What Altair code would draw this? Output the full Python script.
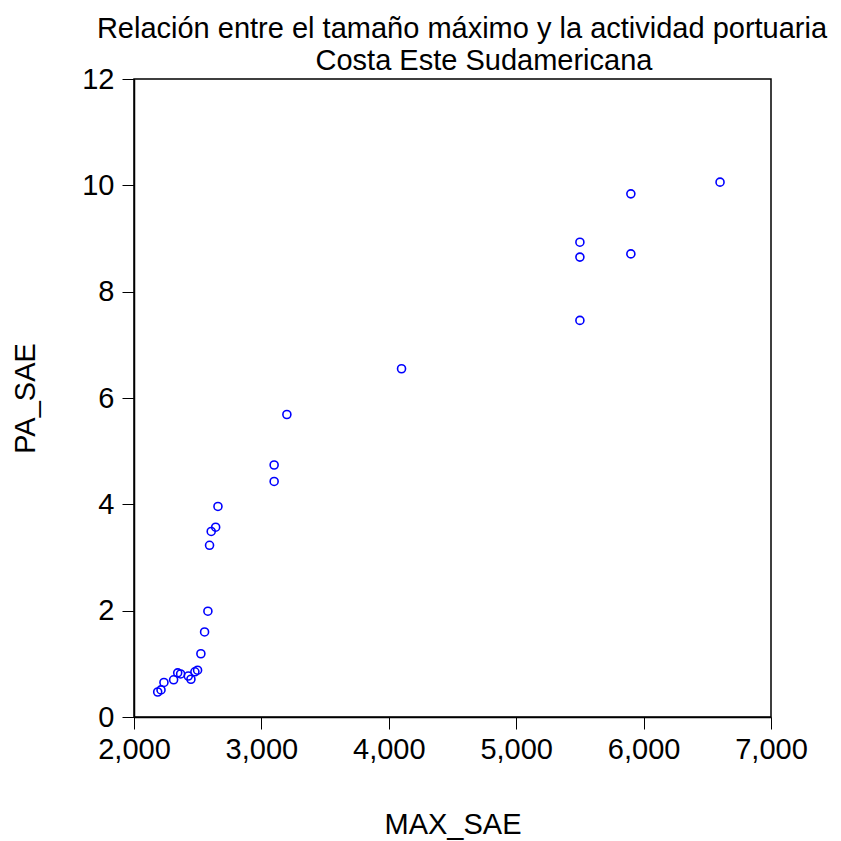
import altair as alt
import pandas as pd

max_sae = [2186, 2212, 2235, 2311, 2343, 2366, 2426, 2447, 2478, 2499, 2525, 2554,
           2580, 2593, 2606, 2641, 2659, 3100, 3100, 3200, 4100, 5500, 5500, 5500,
           5900, 5900, 6600]
pa_sae = [0.47, 0.51, 0.65, 0.70, 0.83, 0.81, 0.77, 0.71, 0.85, 0.88, 1.19, 1.60,
          1.99, 3.23, 3.49, 3.57, 3.96, 4.74, 4.43, 5.69, 6.55, 8.93, 8.65, 7.46,
          9.84, 8.71, 10.06]
x_ticks = [2000, 3000, 4000, 5000, 6000, 7000]
y_ticks = [0, 2, 4, 6, 8, 10, 12]
title_lines = ["Relación entre el tamaño máximo y la actividad portuaria",
               "Costa Este Sudamericana"]

df = pd.DataFrame({"MAX_SAE": max_sae, "PA_SAE": pa_sae})
FONT = "Liberation Sans"
FS = 29
W, H = 637, 638

points = alt.Chart(df).mark_point(
    shape="circle", filled=False, color="#0000FF", size=64, strokeWidth=1.6, opacity=1
).encode(
    x=alt.X("MAX_SAE:Q", scale=alt.Scale(domain=[2000, 7000], nice=False, zero=False),
            axis=alt.Axis(values=x_ticks, format=",.0f", title="MAX_SAE",
                          titlePadding=46, labelPadding=6, labelFlush=False)),
    y=alt.Y("PA_SAE:Q", scale=alt.Scale(domain=[0, 12], nice=False),
            axis=alt.Axis(values=y_ticks, format="d", title="PA_SAE", titlePadding=41,
                          labelPadding=8, labelFlush=False)),
)

t1 = alt.Chart(pd.DataFrame({"t": [title_lines[0]]})).mark_text(
    font=FONT, fontSize=FS, align="center", baseline="alphabetic", color="black"
).encode(text="t:N", x=alt.value(328), y=alt.value(-41))
t2 = alt.Chart(pd.DataFrame({"t": [title_lines[1]]})).mark_text(
    font=FONT, fontSize=FS, align="center", baseline="alphabetic", color="black"
).encode(text="t:N", x=alt.value(350), y=alt.value(-9))

chart = alt.layer(points, t1, t2).properties(
    width=W, height=H,
    autosize=alt.AutoSizeParams(type="none"),
    padding={"left": 126, "top": 71, "right": 62, "bottom": 128},
).configure_view(
    stroke="black", strokeWidth=1.5
).configure_axis(
    grid=False, domainColor="black", domainWidth=1.5, tickColor="black",
    tickSize=12, tickWidth=1, labelFont=FONT, labelFontSize=FS, labelColor="black",
    titleFont=FONT, titleFontSize=FS, titleFontWeight="normal", titleColor="black",
)

chart.save("out.html", embed_options={"renderer": "svg", "actions": False})
